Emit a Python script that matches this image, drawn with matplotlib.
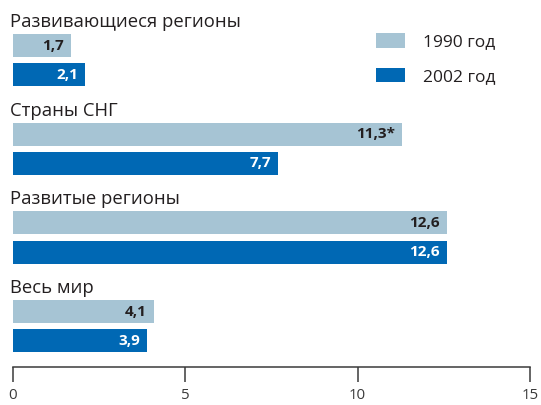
import matplotlib
matplotlib.use("Agg")
import matplotlib.pyplot as plt
from matplotlib.patches import Rectangle

regions = ["Развивающиеся регионы", "Страны СНГ", "Развитые регионы", "Весь мир"]
values_1990 = [1.7, 11.3, 12.6, 4.1]
values_2002 = [2.1, 7.7, 12.6, 3.9]
labels_1990 = ["1,7", "11,3*", "12,6", "4,1"]
labels_2002 = ["2,1", "7,7", "12,6", "3,9"]
series_names = ["1990 год", "2002 год"]
xticks = [0, 5, 10, 15]

c_light = "#a6c4d4"
c_dark = "#0068b4"
txt = "#231f20"

plt.rcParams['font.family'] = ['Open Sans', 'DejaVu Sans']

W, H = 541, 405
fig = plt.figure(figsize=(W / 100, H / 100), dpi=100)
x0, x1 = 12.7, 530
yax = 366.7
ax = fig.add_axes([x0 / W, 1 - yax / H, (x1 - x0) / W, yax / H])
ax.set_xlim(0, 15)
ax.set_ylim(yax, 0)

group_step = 88.7
first_center = 45.5
offset = 29.2
bh = 23
pad = 7.2 / 34.5

for i, reg in enumerate(regions):
    yc1 = first_center + group_step * i
    yc2 = yc1 + offset
    ax.barh(yc1, values_1990[i], height=bh, color=c_light)
    ax.barh(yc2, values_2002[i], height=bh, color=c_dark)
    ax.text(values_1990[i] - pad, yc1, labels_1990[i], ha="right", va="center",
            fontsize=11, fontweight="bold", color=txt)
    ax.text(values_2002[i] - pad, yc2, labels_2002[i], ha="right", va="center",
            fontsize=11, fontweight="bold", color="white")
    ax.text(-0.08, yc1 - 18.5, reg, ha="left", va="baseline", fontsize=13.3, color=txt,
            clip_on=False)

for s in ["top", "right", "left"]:
    ax.spines[s].set_visible(False)
ax.spines["bottom"].set_color("#3a3a3a")
ax.spines["bottom"].set_linewidth(1.1)
ax.set_yticks([])
ax.set_xticks(xticks)
ax.set_xticklabels([str(t) for t in xticks])
ax.tick_params(axis="x", direction="out", length=10.8, width=1.1, color="#3a3a3a",
               labelsize=10.8, labelcolor="#3a3a3a", pad=4.5)

# legend drawn in figure pixel coordinates
leg_x, leg_w, leg_h = 376, 29, 14.4
leg_centers = [40.5, 75]
for name, col, yc in zip(series_names, [c_light, c_dark], leg_centers):
    fig.patches.append(Rectangle((leg_x / W, 1 - (yc + leg_h / 2) / H), leg_w / W, leg_h / H,
                                 transform=fig.transFigure, facecolor=col, edgecolor="none"))
    fig.text(422.7 / W, 1 - yc / H, name, ha="left", va="center_baseline",
             fontsize=12.5, color=txt)

fig.savefig("out.png", dpi=100)
